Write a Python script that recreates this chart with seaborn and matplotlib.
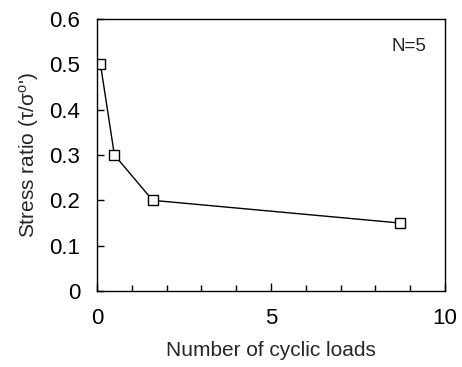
import matplotlib
matplotlib.use("Agg")
import matplotlib.pyplot as plt
import seaborn as sns
import pandas as pd
from matplotlib.ticker import MultipleLocator, FuncFormatter

cycles = [0.1, 0.5, 1.6, 8.7]
stress_ratio = [0.5, 0.3, 0.2, 0.15]
annotation = "N=5"
xlabel = "Number of cyclic loads"
ylabel = "Stress ratio (τ/σ$^{\\mathregular{o}}$')"

sns.set_theme(style="ticks")
plt.rcParams['font.family'] = ['Liberation Sans', 'DejaVu Sans']
plt.rcParams['mathtext.fontset'] = 'custom'
plt.rcParams['mathtext.rm'] = 'Liberation Sans'
plt.rcParams['mathtext.it'] = 'Liberation Sans'

df = pd.DataFrame({"cycles": cycles, "ratio": stress_ratio})

fig = plt.figure(figsize=(4.62, 3.67), dpi=100)
ax = fig.add_axes([97/462, 1 - 291/367, (445-97)/462, (291-19)/367])
sns.lineplot(data=df, x="cycles", y="ratio", ax=ax, color="black", lw=1.0,
             marker="s", markersize=7, markerfacecolor="white",
             markeredgecolor="black", markeredgewidth=1.0)

ax.set_xlim(0, 10)
ax.set_ylim(0, 0.6)
ax.xaxis.set_major_locator(MultipleLocator(5))
ax.xaxis.set_minor_locator(MultipleLocator(1))
ax.yaxis.set_major_locator(MultipleLocator(0.1))
ax.yaxis.set_major_formatter(FuncFormatter(lambda v, p: "0" if abs(v) < 1e-9 else f"{v:.1f}"))
ax.tick_params(axis="both", which="both", direction="in", top=False, right=False,
               labelsize=16, colors="black", width=1.0)
ax.tick_params(axis="x", which="major", length=6, pad=12)
ax.tick_params(axis="x", which="minor", length=4)
ax.tick_params(axis="y", which="major", length=5, pad=12)
for s in ax.spines.values():
    s.set_visible(True)
    s.set_color("black")
    s.set_linewidth(1.0)

ax.set_xlabel(xlabel, fontsize=15, labelpad=9)
ax.set_ylabel(ylabel, fontsize=15, labelpad=6)
ax.text(0.895, 0.90, annotation, transform=ax.transAxes, fontsize=13.5,
        ha="center", va="center")

fig.savefig("out.png", dpi=100)
